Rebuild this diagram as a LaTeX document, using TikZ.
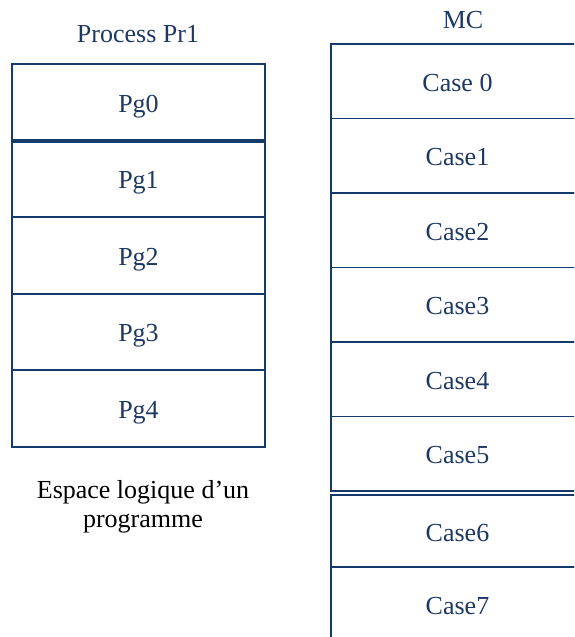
\documentclass[tikz,border=0pt]{standalone}
\usepackage{fontspec}
\setmainfont{Liberation Serif}
\newfontfamily\timesfont{Liberation Serif}
\definecolor{navy}{RGB}{22,58,108}
\definecolor{labelblue}{RGB}{30,56,100}
\begin{document}
\begin{tikzpicture}[x=1pt,y=-1pt,
  every node/.style={font=\timesfont\fontsize{26}{29}\selectfont},
  cell/.style={draw=navy,line width=1.9pt,text=labelblue,inner sep=0pt,
    text height=20pt,text depth=0pt},
  pgcell/.style={cell,minimum width=253.5pt,minimum height=76.6pt},
  mccell/.style={cell,minimum width=253pt,minimum height=74.5pt},
  title/.style={text=labelblue,inner sep=0pt},
  caption/.style={text=black,align=center,inner sep=0pt}]
\useasboundingbox (0,0) rectangle (574,637);
\begin{scope}
\clip (0,0) rectangle (574,637);
% logical pages of process Pr1
\node[title] (ttlP) at (138,34) {Process Pr1};
\node[pgcell] (pg0) at (138.5,102.1) {Pg0};
\node[pgcell] (pg1) at (138.5,178.7) {Pg1};
\node[pgcell] (pg2) at (138.5,255.3) {Pg2};
\node[pgcell] (pg3) at (138.5,331.9) {Pg3};
\node[pgcell] (pg4) at (138.5,408.5) {Pg4};
\draw[navy,line width=2.8pt] (pg0.south west) -- (pg0.south east);
\node[caption] (cap) at (143,507) {Espace logique d’un\\programme};
% physical memory frames
\node[title] (ttlM) at (463,20) {MC};
\node[mccell] (c0) at (457.5,81.25) {Case 0};
\node[mccell] (c1) at (457.5,155.75) {Case1};
\node[mccell] (c2) at (457.5,230.25) {Case2};
\node[mccell] (c3) at (457.5,304.75) {Case3};
\node[mccell] (c4) at (457.5,379.25) {Case4};
\node[mccell] (c5) at (457.5,453.75) {Case5};
\node[mccell,minimum height=72pt] (c6) at (457.5,531) {Case6};
\node[mccell,minimum height=74.5pt] (c7) at (457.5,604.25) {Case7};
\end{scope}
\end{tikzpicture}
\end{document}
